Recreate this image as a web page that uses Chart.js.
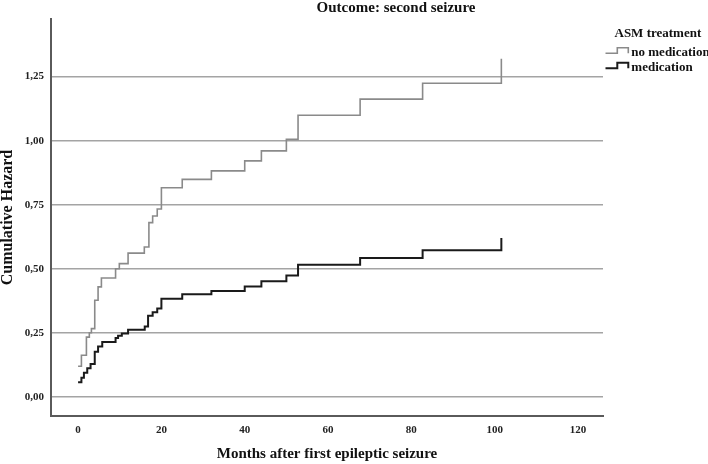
<!DOCTYPE html>
<html>
<head>
<meta charset="utf-8">
<script src="https://cdn.jsdelivr.net/npm/chart.js@4/dist/chart.umd.min.js"></script>
<style>
 body { margin: 0; background: #fff; }
 #wrap { width: 708px; height: 464px; position: relative; }
</style>
</head>
<body>
<div id="wrap"><canvas id="hazardChart"></canvas></div>
<script>
// months at which the cumulative hazard steps, and the hazard values
const noMedMonths = [0, 0.8, 2, 2.7, 3.2, 4, 4.8, 5.6, 9, 9.9, 12, 15.9, 17, 17.9, 19, 20, 25, 32, 40, 44, 50, 52.8, 67.7, 82.7, 101.6, 101.6]
const noMedHazard = [0.119, 0.162, 0.233, 0.25, 0.266, 0.377, 0.429, 0.464, 0.50, 0.52, 0.561, 0.585, 0.68, 0.706, 0.733, 0.816, 0.849, 0.882, 0.921, 0.960, 1.005, 1.099, 1.162, 1.224, 1.224, 1.32]

const medMonths = [0, 0.8, 1.4, 2.2, 3, 4, 4.8, 5.8, 9, 9.6, 10.5, 12, 16, 16.8, 17.9, 19, 20, 25, 32, 40, 44, 50, 52.8, 67.7, 82.7, 101.6, 101.6]
const medHazard = [0.057, 0.074, 0.094, 0.111, 0.128, 0.176, 0.196, 0.214, 0.23, 0.238, 0.247, 0.262, 0.274, 0.316, 0.33, 0.345, 0.383, 0.40, 0.413, 0.431, 0.451, 0.474, 0.516, 0.542, 0.572, 0.572, 0.62]

const xTicks = [0, 20, 40, 60, 80, 100, 120]
const yTicks = [0, 0.25, 0.5, 0.75, 1.0, 1.25]

const seriesNames = ["no medication", "medication"]
const serif = "'Liberation Serif', 'Times New Roman', serif"

const toPoints = (xs, ys) => xs.map((x, i) => ({ x: x, y: ys[i] }))

// title and the step-shaped legend, drawn on the canvas
const extras = {
 id: "extras",
 afterDraw(chart) {
  const ctx = chart.ctx
  ctx.save()
  ctx.fillStyle = "#111"
  ctx.textBaseline = "alphabetic"
  ctx.font = "bold 15px " + serif
  ctx.textAlign = "center"
  ctx.fillText("Outcome: second seizure", 396, 12)

  ctx.textAlign = "left"
  ctx.font = "bold 13px " + serif
  ctx.fillText("ASM treatment", 614.5, 36.5)

  const rows = [53.3, 68.3]
  chart.data.datasets.forEach((ds, i) => {
   const yb = rows[i]
   ctx.strokeStyle = ds.borderColor
   ctx.lineWidth = ds.borderWidth
   ctx.beginPath()
   ctx.moveTo(605.5, yb)
   ctx.lineTo(617.3, yb)
   ctx.lineTo(617.3, yb - 5.5)
   ctx.lineTo(628.3, yb - 5.5)
   ctx.lineTo(628.3, yb)
   ctx.stroke()
   ctx.fillText(ds.label, 631.3, yb + 2.5)
  })
  ctx.restore()
 }
}

const chart = new Chart(document.getElementById("hazardChart"), {
 type: "line",
 data: {
  datasets: [{
   label: seriesNames[0],
   data: toPoints(noMedMonths, noMedHazard),
   borderColor: "#8a8a8a",
   borderWidth: 1.6,
   stepped: "before",
   pointRadius: 0,
   fill: false
  }, {
   label: seriesNames[1],
   data: toPoints(medMonths, medHazard),
   borderColor: "#1a1a1a",
   borderWidth: 2,
   stepped: "before",
   pointRadius: 0,
   fill: false
  }]
 },
 options: {
  responsive: true,
  maintainAspectRatio: false,
  animation: false,
  layout: { padding: { top: 19, right: 105, left: 0, bottom: 0 } },
  plugins: {
   legend: { display: false },
   title: { display: false },
   tooltip: { enabled: false }
  },
  scales: {
   x: {
    type: "linear",
    min: -6.5,
    max: 126,
    afterBuildTicks: s => { s.ticks = xTicks.map(v => ({ value: v })) },
    afterFit: s => { s.height = 48 },
    grid: { display: false, drawTicks: false },
    border: { display: true, color: "#5a5a5a", width: 2 },
    ticks: {
     padding: 8,
     color: "#222",
     font: { family: serif, size: 11, weight: "bold" }
    },
    title: {
     display: true,
     text: "Months after first epileptic seizure",
     color: "#111",
     padding: { top: 0, bottom: 2.5 },
     font: { family: serif, size: 15, weight: "bold", lineHeight: 1 }
    }
   },
   y: {
    type: "linear",
    min: -0.075,
    max: 1.475,
    afterBuildTicks: s => { s.ticks = yTicks.map(v => ({ value: v })) },
    afterFit: s => { s.width = 51 },
    grid: { color: "#a4a4a4", lineWidth: 1.6, drawTicks: false },
    border: { display: true, color: "#5a5a5a", width: 2 },
    ticks: {
     padding: 7,
     color: "#222",
     font: { family: serif, size: 11, weight: "bold" },
     callback: v => v.toFixed(2).replace(".", ",")
    },
    title: {
     display: true,
     text: "Cumulative Hazard",
     color: "#111",
     padding: 0,
     font: { family: serif, size: 16, weight: "bold", lineHeight: 1 }
    }
   }
  }
 },
 plugins: [extras]
})
</script>
</body>
</html>
